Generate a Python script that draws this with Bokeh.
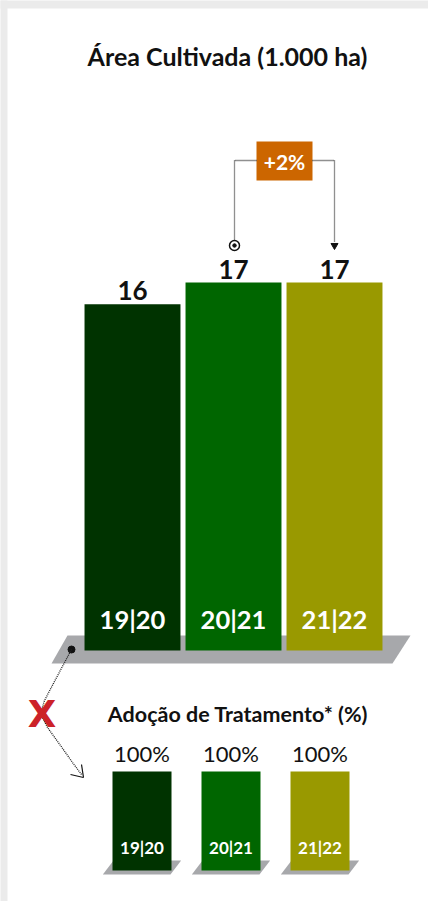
from bokeh.plotting import figure
from bokeh.models import Range1d
from bokeh.core.properties import value
from bokeh.embed import file_html
from bokeh.resources import INLINE

# ---- data ----
seasons = ["19|20", "20|21", "21|22"]
area = [16, 17, 17]                 # 1.000 ha
adoption = [100, 100, 100]          # %
bar_colors = ["#003300", "#006600", "#999900"]
change_label = "+2%"
title_main = "Área Cultivada (1.000 ha)"
title_sub = "Adoção de Tratamento* (%)"

FONT = value("Lato")
W, H = 428, 901
idx = list(range(len(seasons)))

p = figure(width=W, height=H, output_backend="svg", toolbar_location=None,
           x_range=Range1d(0, W), y_range=Range1d(H, 0),
           x_axis_type=None, y_axis_type=None, min_border=0)
p.grid.visible = False
p.outline_line_color = None
p.background_fill_color = "white"
p.border_fill_color = "white"

# data ranges (main chart and adoption chart)
KM = 368 / 17
p.extra_x_ranges = {
    "main_x": Range1d((0 - 132) / 101, (W - 132) / 101),
    "sub_x": Range1d((0 - 141.5) / 89, (W - 141.5) / 89),
}
p.extra_y_ranges = {
    "main_y": Range1d(-(H - 650) / KM, 650 / KM),
    "sub_y": Range1d(-(H - 870) / 0.99, 870 / 0.99),
}

# grey page edges (left and top)
p.quad(left=[-2, -2], right=[7, W + 2], top=[-2, -2], bottom=[H + 2, 8],
       color="#ebebeb", line_color=None)

# ---- main title ----
p.text(x=[227], y=[55], text=[title_main], text_align="center", text_baseline="middle",
       text_font=FONT, text_font_style="bold", text_font_size="25px", text_color="#111111")

# ---- main chart ----
p.patch(x=[67, 410, 392, 51], y=[635, 635, 663, 663], color="#a7a8ab", line_color=None)
p.vbar(x=idx, top=area, bottom=0, width=0.95, color=bar_colors, line_color=None,
       x_range_name="main_x", y_range_name="main_y")
p.text(x=idx, y=area, text=[str(v) for v in area], text_align="center",
       text_baseline="bottom", y_offset=-4, text_font=FONT, text_font_style="bold",
       text_font_size="26px", text_color="#111111",
       x_range_name="main_x", y_range_name="main_y")
p.text(x=idx, y=[0] * 3, text=seasons, text_align="center", text_baseline="middle",
       y_offset=-32, text_font=FONT, text_font_style="bold", text_font_size="25.5px",
       text_color="white", x_range_name="main_x", y_range_name="main_y")

# ---- change annotation ----
p.quad(left=[256], right=[312], top=[141], bottom=[180], color="#cc6600", line_color=None)
p.text(x=[284], y=[161], text=[change_label], text_align="center", text_baseline="middle",
       text_font=FONT, text_font_style="bold", text_font_size="21px", text_color="white")
p.line(x=[256, 234, 234], y=[160, 160, 240], line_dash="1 1", line_width=1.3,
       line_color="#222222")
p.line(x=[312, 334, 334], y=[160, 160, 242], line_dash="1 1", line_width=1.3,
       line_color="#222222")
p.scatter(x=[234], y=[245], marker="circle", size=10, fill_color="white",
          line_color="#111111", line_width=1.5)
p.scatter(x=[234], y=[245], marker="circle", size=3.5, color="#111111")
p.scatter(x=[334], y=[245], marker="inverted_triangle", size=7, color="#111111")

# ---- connector to adoption chart ----
p.scatter(x=[71], y=[649], marker="circle", size=7, color="#111111")
p.line(x=[71, 55, 44, 40, 47, 60, 72, 81], y=[649, 679, 700, 713, 727, 745, 762, 774],
       line_dash="1 1", line_width=1.3, line_color="#222222")
p.multi_line(xs=[[70, 83], [81, 83]], ys=[[774, 777], [764, 777]], line_color="#111111",
             line_width=1.2)
p.text(x=[41.5], y=[714], text=["X"], text_align="center", text_baseline="middle",
       text_font=value("DejaVu Sans"), text_font_style="bold", text_font_size="37px",
       text_color="#cc2229")

# ---- adoption chart ----
p.text(x=[237.5], y=[713], text=[title_sub], text_align="center", text_baseline="middle",
       text_font=FONT, text_font_style="bold", text_font_size="21.5px", text_color="#111111")
sh_xs = [[i - 0.32, i + 0.44, i + 0.32, i - 0.44] for i in idx]
sh_ys = [[10, 10, -4, -4] for _ in idx]
p.patches(xs=sh_xs, ys=sh_ys, color="#a7a8ab", line_color=None,
          x_range_name="sub_x", y_range_name="sub_y")
p.vbar(x=idx, top=adoption, bottom=0, width=0.663, color=bar_colors, line_color=None,
       x_range_name="sub_x", y_range_name="sub_y")
p.text(x=idx, y=adoption, text=[f"{v}%" for v in adoption], text_align="center",
       text_baseline="bottom", y_offset=-5, text_font=FONT, text_font_size="22px",
       text_color="#111111", x_range_name="sub_x", y_range_name="sub_y")
p.text(x=idx, y=[0] * 3, text=seasons, text_align="center", text_baseline="middle",
       y_offset=-23, text_font=FONT, text_font_style="bold", text_font_size="17px",
       text_color="white", x_range_name="sub_x", y_range_name="sub_y")

open("out.html", "w").write(file_html(p, INLINE))
